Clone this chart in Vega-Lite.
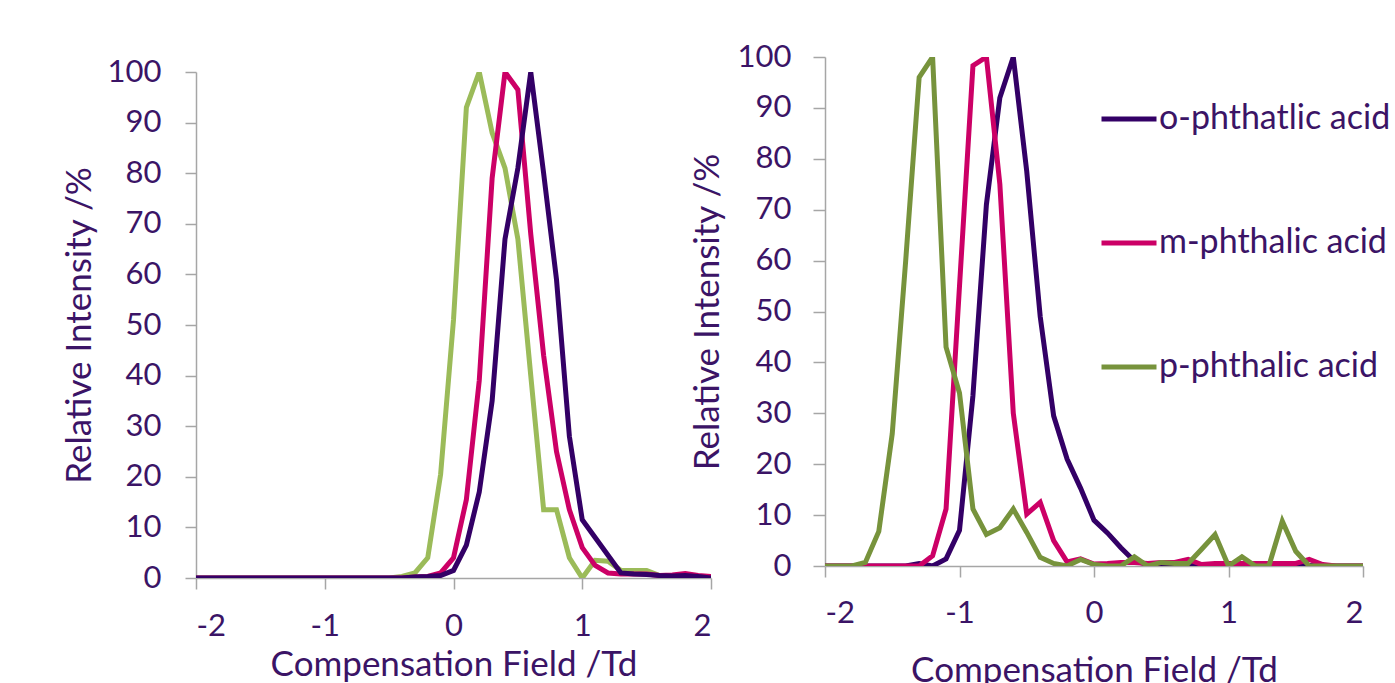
{
  "$schema": "https://vega.github.io/schema/vega-lite/v6.json",
  "background": "white",
  "padding": {"left": 62, "top": 41, "right": 0, "bottom": 0},
  "spacing": -22,
  "datasets": {
    "left": [
      {"cf": -2.0, "o": 0, "m": 0, "p": 0},
      {"cf": -1.9, "o": 0, "m": 0, "p": 0},
      {"cf": -1.8, "o": 0, "m": 0, "p": 0},
      {"cf": -1.7, "o": 0, "m": 0, "p": 0},
      {"cf": -1.6, "o": 0, "m": 0, "p": 0},
      {"cf": -1.5, "o": 0, "m": 0, "p": 0},
      {"cf": -1.4, "o": 0, "m": 0, "p": 0},
      {"cf": -1.3, "o": 0, "m": 0, "p": 0},
      {"cf": -1.2, "o": 0, "m": 0, "p": 0},
      {"cf": -1.1, "o": 0, "m": 0, "p": 0},
      {"cf": -1.0, "o": 0, "m": 0, "p": 0},
      {"cf": -0.9, "o": 0, "m": 0, "p": 0},
      {"cf": -0.8, "o": 0, "m": 0, "p": 0},
      {"cf": -0.7, "o": 0, "m": 0, "p": 0},
      {"cf": -0.6, "o": 0, "m": 0, "p": 0},
      {"cf": -0.5, "o": 0, "m": 0, "p": 0},
      {"cf": -0.4, "o": 0, "m": 0, "p": 0.3},
      {"cf": -0.3, "o": 0.2, "m": 0.2, "p": 1},
      {"cf": -0.2, "o": 0.3, "m": 0.3, "p": 4},
      {"cf": -0.1, "o": 0.5, "m": 1, "p": 20.5},
      {"cf": 0.0, "o": 1.5, "m": 4, "p": 51},
      {"cf": 0.1, "o": 6.5, "m": 15.5, "p": 93},
      {"cf": 0.2, "o": 17, "m": 39, "p": 100},
      {"cf": 0.3, "o": 35, "m": 79, "p": 88},
      {"cf": 0.4, "o": 67, "m": 100, "p": 81},
      {"cf": 0.5, "o": 81, "m": 96.5, "p": 67},
      {"cf": 0.6, "o": 100, "m": 68, "p": 40},
      {"cf": 0.7, "o": 80, "m": 44, "p": 13.5},
      {"cf": 0.8, "o": 59, "m": 25, "p": 13.5},
      {"cf": 0.9, "o": 28, "m": 13.5, "p": 4},
      {"cf": 1.0, "o": 11.5, "m": 6, "p": 0},
      {"cf": 1.1, "o": 8, "m": 2.5, "p": 3.5},
      {"cf": 1.2, "o": 4.5, "m": 1, "p": 3.3},
      {"cf": 1.3, "o": 1, "m": 0.8, "p": 1.5},
      {"cf": 1.4, "o": 0.8, "m": 0.8, "p": 1.5},
      {"cf": 1.5, "o": 0.7, "m": 0.8, "p": 1.5},
      {"cf": 1.6, "o": 0.5, "m": 0.5, "p": 0.5},
      {"cf": 1.7, "o": 0.4, "m": 0.6, "p": 0},
      {"cf": 1.8, "o": 0.5, "m": 0.9, "p": 0},
      {"cf": 1.9, "o": 0.3, "m": 0.5, "p": 0},
      {"cf": 2.0, "o": 0, "m": 0.3, "p": 0}
    ],
    "right": [
      {"cf": -2.0, "o": 0, "m": 0, "p": 0},
      {"cf": -1.9, "o": 0, "m": 0, "p": 0},
      {"cf": -1.8, "o": 0, "m": 0, "p": 0},
      {"cf": -1.7, "o": 0, "m": 0, "p": 0.7},
      {"cf": -1.6, "o": 0, "m": 0, "p": 6.8},
      {"cf": -1.5, "o": 0, "m": 0, "p": 26},
      {"cf": -1.4, "o": 0, "m": 0, "p": 60},
      {"cf": -1.3, "o": 0.5, "m": 0, "p": 96},
      {"cf": -1.2, "o": 0, "m": 2, "p": 100},
      {"cf": -1.1, "o": 1.4, "m": 11.2, "p": 43},
      {"cf": -1.0, "o": 7, "m": 55, "p": 34},
      {"cf": -0.9, "o": 33.5, "m": 98.3, "p": 11.2},
      {"cf": -0.8, "o": 71, "m": 100, "p": 6.2},
      {"cf": -0.7, "o": 92, "m": 75, "p": 7.5},
      {"cf": -0.6, "o": 100, "m": 30, "p": 11.2},
      {"cf": -0.5, "o": 77.5, "m": 10.2, "p": 6.6},
      {"cf": -0.4, "o": 49, "m": 12.5, "p": 1.7},
      {"cf": -0.3, "o": 29.5, "m": 5, "p": 0.5},
      {"cf": -0.2, "o": 21, "m": 0.8, "p": 0},
      {"cf": -0.1, "o": 15.3, "m": 1.4, "p": 1.3},
      {"cf": 0.0, "o": 9, "m": 0.4, "p": 0.3},
      {"cf": 0.1, "o": 6.5, "m": 0.5, "p": 0},
      {"cf": 0.2, "o": 3.6, "m": 0.7, "p": 0},
      {"cf": 0.3, "o": 1, "m": 0.7, "p": 1.8},
      {"cf": 0.4, "o": 0.3, "m": 0.5, "p": 0},
      {"cf": 0.5, "o": 0.2, "m": 0.7, "p": 0.7},
      {"cf": 0.6, "o": 0.2, "m": 0.7, "p": 0.5},
      {"cf": 0.7, "o": 0.2, "m": 1.3, "p": 0.5},
      {"cf": 0.8, "o": 0.2, "m": 0.3, "p": 3.3},
      {"cf": 0.9, "o": 0.2, "m": 0.5, "p": 6.2},
      {"cf": 1.0, "o": 0.2, "m": 0.5, "p": 0},
      {"cf": 1.1, "o": 0.2, "m": 0.5, "p": 1.8},
      {"cf": 1.2, "o": 0.2, "m": 0.5, "p": 0},
      {"cf": 1.3, "o": 0.2, "m": 0.5, "p": 0},
      {"cf": 1.4, "o": 0.2, "m": 0.5, "p": 8.8},
      {"cf": 1.5, "o": 0.2, "m": 0.5, "p": 2.9},
      {"cf": 1.6, "o": 0.1, "m": 1.3, "p": 0},
      {"cf": 1.7, "o": 0, "m": 0.3, "p": 0},
      {"cf": 1.8, "o": 0, "m": 0, "p": 0},
      {"cf": 1.9, "o": 0, "m": 0, "p": 0},
      {"cf": 2.0, "o": 0, "m": 0, "p": 0}
    ]
  },
  "config": {
    "font": "Lato",
    "view": {"stroke": null},
    "axis": {
      "grid": false,
      "labelFont": "Lato",
      "labelFontSize": 31,
      "labelColor": "#3b1466",
      "titleFont": "Lato",
      "titleFontSize": 35,
      "titleFontWeight": "normal",
      "titleColor": "#3b1466",
      "domainColor": "#a6a6a6",
      "tickColor": "#a6a6a6",
      "domainWidth": 1.5,
      "tickWidth": 1.5,
      "tickSize": 11
    },
    "line": {"strokeWidth": 5}
  },
  "resolve": {"scale": {"color": "independent"}, "legend": {"color": "independent"}},
  "hconcat": [
    {
      "spacing": -2,
      "vconcat": [
        {
          "width": 515,
          "height": 1,
          "data": {"values": []},
          "mark": "point"
        },
        {
          "width": 515,
          "height": 506,
          "data": {"name": "left"},
          "transform": [{"fold": ["p", "m", "o"], "as": ["series", "intensity"]}],
          "mark": {"type": "line", "clip": true},
          "encoding": {
            "x": {"field": "cf", "type": "quantitative", "scale": {"domain": [-2, 2], "nice": false},
                  "axis": {"values": [-2, -1, 0, 1, 2], "labelExpr": "toString(datum.value)", "title": "Compensation Field /Td", "labelPadding": 22, "titlePadding": 6}},
            "y": {"field": "intensity", "type": "quantitative", "scale": {"domain": [0, 100], "nice": false},
                  "axis": {"values": [0, 10, 20, 30, 40, 50, 60, 70, 80, 90, 100], "title": "Relative Intensity /%", "labelPadding": 24, "titlePadding": 10}},
            "color": {"field": "series", "type": "nominal",
                      "scale": {"domain": ["o", "m", "p"], "range": ["#330066", "#cc0066", "#9bbb59"]},
                      "legend": null}
          }
        }
      ]
    },
    {
      "width": 538,
      "height": 509,
      "data": {"name": "right"},
      "transform": [{"fold": ["o", "m", "p"], "as": ["series", "intensity"]}],
      "mark": {"type": "line", "clip": true},
      "encoding": {
        "x": {"field": "cf", "type": "quantitative", "scale": {"domain": [-2, 2], "nice": false},
              "axis": {"values": [-2, -1, 0, 1, 2], "labelExpr": "toString(datum.value)", "title": "Compensation Field /Td", "labelPadding": 21, "titlePadding": 25}},
        "y": {"field": "intensity", "type": "quantitative", "scale": {"domain": [0, 100], "nice": false},
              "axis": {"values": [0, 10, 20, 30, 40, 50, 60, 70, 80, 90, 100], "title": "Relative Intensity /%", "labelPadding": 22, "titlePadding": 12, "tickSize": 12}},
        "color": {"field": "series", "type": "nominal",
                  "scale": {"domain": ["o", "m", "p"], "range": ["#330066", "#cc0066", "#77933c"]},
                  "legend": {
                    "orient": "none", "legendX": 274, "legendY": 32,
                    "title": null, "direction": "vertical",
                    "symbolType": "stroke", "symbolSize": 3025, "symbolStrokeWidth": 5,
                    "labelFont": "Lato", "labelFontSize": 34, "labelColor": "#3b1466", "labelLimit": 0,
                    "labelOffset": 0, "rowPadding": 77,
                    "labelExpr": "datum.value == 'o' ? 'o-phthatlic acid' : datum.value == 'm' ? 'm-phthalic acid' : 'p-phthalic acid'"
                  }}
      }
    }
  ]
}
